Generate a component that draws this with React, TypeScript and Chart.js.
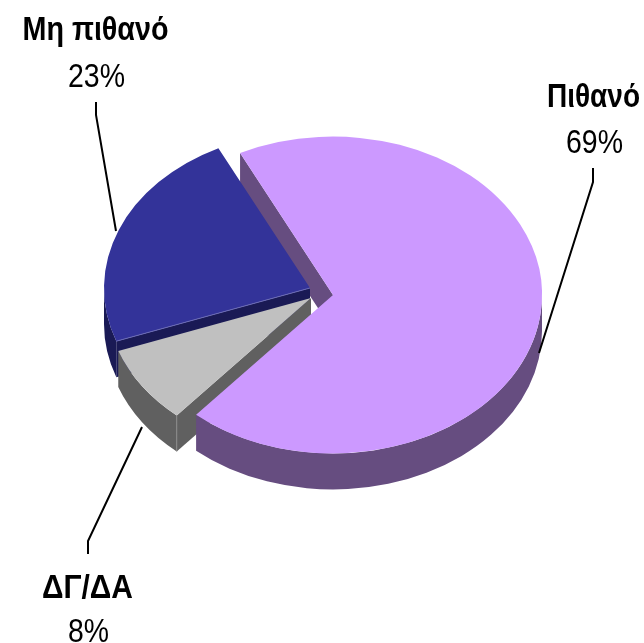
import React, { useEffect, useRef } from "react";
import { Chart, registerables } from "chart.js";

Chart.register(...registerables);

const categories = ["Πιθανό", "ΔΓ/ΔΑ", "Μη πιθανό"];
const values = [68.7, 8.1, 23.2];
const percentLabels = ["69%", "8%", "23%"];
const topColors = ["#CC99FF", "#C0C0C0", "#333399"];
const wallColors = ["#664D80", "#606060", "#1A1A55"];

// presentation constants
const RADIUS = 209;
const TILT = 0.758;
const DEPTH = 36;
const shiftX = [0, -22, -23];
const shiftY = [0, 3, -7];
const sliceScale = [1, 205 / 209, 206 / 209];
const labelBoxes = [
  { cx: 593.5, nameY: 107, nameW: 93, pctCx: 594.5, pctY: 153, pctW: 57, line: [[593, 168], [593, 182], [539, 353]] },
  { cx: 87.5, nameY: 598, nameW: 91, pctCx: 88.5, pctY: 642, pctW: 41, line: [[88, 554], [88, 541], [142, 427]] },
  { cx: 95.5, nameY: 40, nameW: 146, pctCx: 96.5, pctY: 87, pctW: 57, line: [[96, 102], [96, 115], [116, 231]] },
];

const pie3d = {
  id: "pie3d",
  beforeDatasetDraw(chart: any) {
    const ctx = chart.ctx as CanvasRenderingContext2D;
    const arcs = chart.getDatasetMeta(0).data;

    const geom = (i: number) => {
      const a = arcs[i];
      return {
        x: a.x + shiftX[i],
        y: a.y + shiftY[i],
        rx: a.outerRadius * sliceScale[i],
        ry: a.outerRadius * sliceScale[i] * TILT,
        a0: a.startAngle,
        a1: a.endAngle,
      };
    };
    const arcWall = (i: number) => {
      const g = geom(i);
      // only the front half of the rim can be seen
      const from = Math.max(g.a0, 0);
      const to = Math.min(g.a1, Math.PI);
      ctx.fillStyle = wallColors[i];
      ctx.beginPath();
      ctx.ellipse(g.x, g.y, g.rx, g.ry, 0, from, to);
      ctx.ellipse(g.x, g.y + DEPTH, g.rx, g.ry, 0, to, from, true);
      ctx.closePath();
      ctx.fill();
    };
    const edgeWall = (i: number, angle: number) => {
      const g = geom(i);
      const px = g.x + Math.cos(angle) * g.rx;
      const py = g.y + Math.sin(angle) * g.ry;
      ctx.fillStyle = wallColors[i];
      ctx.beginPath();
      ctx.moveTo(g.x, g.y);
      ctx.lineTo(px, py);
      ctx.lineTo(px, py + DEPTH);
      ctx.lineTo(g.x, g.y + DEPTH);
      ctx.closePath();
      ctx.fill();
    };
    const top = (i: number) => {
      const a = arcs[i];
      const s = sliceScale[i];
      ctx.save();
      ctx.translate(a.x + shiftX[i], a.y + shiftY[i]);
      ctx.scale(s, s * TILT);
      ctx.translate(-a.x, -a.y);
      a.draw(ctx);
      ctx.restore();
    };
    const rim = (i: number, color: string, vertical: boolean) => {
      const g = geom(i);
      const tx = g.x + Math.cos(g.a0) * g.rx;
      const ty = g.y + Math.sin(g.a0) * g.ry;
      ctx.strokeStyle = color;
      ctx.lineWidth = 1;
      ctx.beginPath();
      if (vertical) {
        ctx.moveTo(tx, ty);
        ctx.lineTo(tx, ty + DEPTH);
      } else {
        ctx.moveTo(g.x, g.y);
        ctx.lineTo(tx, ty);
      }
      ctx.stroke();
    };

    edgeWall(0, arcs[0].startAngle);
    edgeWall(2, arcs[2].startAngle);
    arcWall(2);
    top(2);
    rim(2, "#6A6AB4", false);
    edgeWall(1, arcs[1].startAngle);
    arcWall(1);
    top(1);
    rim(1, "#8A8A8A", true);
    arcWall(0);
    top(0);
    return false;
  },
  afterDraw(chart: any) {
    const ctx = chart.ctx as CanvasRenderingContext2D;
    ctx.save();
    ctx.strokeStyle = "#000000";
    ctx.lineWidth = 2;
    ctx.fillStyle = "#000000";
    ctx.textAlign = "center";
    ctx.textBaseline = "alphabetic";
    categories.forEach((name, i) => {
      const b = labelBoxes[i];
      ctx.beginPath();
      b.line.forEach((p, j) => (j ? ctx.lineTo(p[0], p[1]) : ctx.moveTo(p[0], p[1])));
      ctx.stroke();
      ctx.font = 'bold 33px "Liberation Sans"';
      ctx.fillText(name, b.cx, b.nameY, b.nameW);
      ctx.font = '33px "Liberation Sans"';
      ctx.fillText(percentLabels[i], b.pctCx, b.pctY, b.pctW);
    });
    ctx.restore();
  },
};

export default function App() {
  const ref = useRef<HTMLCanvasElement>(null);
  useEffect(() => {
    document.body.style.margin = "0";
    document.body.style.background = "#ffffff";
    const chart = new Chart(ref.current as HTMLCanvasElement, {
      type: "pie",
      data: {
        labels: categories,
        datasets: [
          {
            data: values,
            backgroundColor: topColors,
            borderWidth: 0,
            radius: RADIUS,
          } as any,
        ],
      },
      options: {
        animation: false,
        responsive: false,
        rotation: -26.4,
        layout: { padding: { left: 22, right: 0, top: 0, bottom: 53 } },
        plugins: { legend: { display: false }, tooltip: { enabled: false } },
        events: [],
      },
      plugins: [pie3d as any],
    });
    return () => chart.destroy();
  }, []);
  return <canvas ref={ref} width={644} height={643} style={{ display: "block", width: 644, height: 643 }} />;
}
